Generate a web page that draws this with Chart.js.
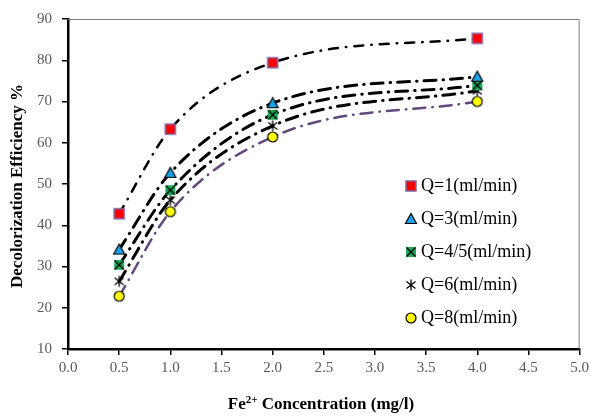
<!DOCTYPE html>
<html lang="en">
<head>
    <meta charset="UTF-8">
    <title>Decolorization Efficiency</title>
    <script src="https://cdn.jsdelivr.net/npm/chart.js@4.4.1/dist/chart.umd.min.js"></script>
    <style>
        body { margin: 0; background: #fff; }
    </style>
</head>
<body>
<canvas id="chart" width="593" height="417"></canvas>
<script>
    // values
    var concentration = [0.5, 1.0, 2.0, 4.0];
    var q1 = [42.8, 63.3, 79.4, 85.3];
    var q3 = [34.1, 52.7, 69.6, 76.0];
    var q45 = [30.4, 48.5, 66.8, 73.9];
    var q6 = [26.4, 46.1, 64.1, 72.6];
    var q8 = [22.8, 43.3, 61.4, 70.0];
    var seriesNames = ['Q=1(ml/min)', 'Q=3(ml/min)', 'Q=4/5(ml/min)', 'Q=6(ml/min)', 'Q=8(ml/min)'];
    var xTicks = [0, 5, 0.5];   // min, max, step
    var yTicks = [10, 90, 10];

    var serif = "'Liberation Serif', 'Times New Roman', serif";

    // little canvases used as point styles (also reused in the legend)
    function makeMarker(kind) {
        var c = document.createElement('canvas');
        c.width = 14; c.height = 14;
        var g = c.getContext('2d');
        g.lineJoin = 'miter';
        if (kind === 'square') {
            g.fillStyle = '#ff0000';
            g.fillRect(2, 2, 10, 10);
            g.strokeStyle = '#8064a2';
            g.lineWidth = 1.5;
            g.strokeRect(2, 2, 10, 10);
        } else if (kind === 'triangle') {
            g.beginPath();
            g.moveTo(7, 1.5); g.lineTo(12.5, 11.5); g.lineTo(1.5, 11.5); g.closePath();
            g.fillStyle = '#1aa3e8';
            g.fill();
            g.strokeStyle = '#000';
            g.lineWidth = 1.2;
            g.stroke();
        } else if (kind === 'xsquare') {
            g.fillStyle = '#1fa95a';
            g.fillRect(2, 2, 10, 10);
            g.strokeStyle = '#000';
            g.lineWidth = 1.3;
            g.beginPath();
            g.moveTo(2.5, 2.5); g.lineTo(11.5, 11.5);
            g.moveTo(11.5, 2.5); g.lineTo(2.5, 11.5);
            g.stroke();
        } else if (kind === 'star') {
            g.strokeStyle = '#000';
            g.lineWidth = 1.3;
            g.beginPath();
            g.moveTo(2.5, 3.5); g.lineTo(11.5, 10.5);
            g.moveTo(11.5, 3.5); g.lineTo(2.5, 10.5);
            g.moveTo(7, 1.5); g.lineTo(7, 12.5);
            g.stroke();
        } else {
            g.beginPath();
            g.arc(7, 7, 5, 0, Math.PI * 2);
            g.fillStyle = '#ffff00';
            g.fill();
            g.strokeStyle = '#000';
            g.lineWidth = 1.2;
            g.stroke();
        }
        return c;
    }

    var markers = [makeMarker('square'), makeMarker('triangle'), makeMarker('xsquare'), makeMarker('star'), makeMarker('circle')];
    var allSeries = [q1, q3, q45, q6, q8];
    var trendColors = ['#000000', '#000000', '#000000', '#000000', '#604a7b'];
    var trendWidths = [2.5, 3, 3, 3, 2.5];
    var trendDash = [[9, 8, 0.5, 8], [12, 7, 0.5, 7], [12, 7, 0.5, 7], [12, 7, 0.5, 7], [12, 7, 0.5, 7]];

    function pts(values) {
        return concentration.map(function (x, i) { return {x: x, y: values[i]}; });
    }

    var datasets = [];
    allSeries.forEach(function (values, i) {
        datasets.push({
            label: seriesNames[i],
            data: pts(values),
            pointStyle: markers[i],
            showLine: false,
            order: 0
        });
    });
    allSeries.forEach(function (values, i) {
        datasets.push({
            label: 'trend ' + seriesNames[i],
            data: pts(values),
            showLine: true,
            pointRadius: 0,
            borderColor: trendColors[i],
            borderWidth: trendWidths[i],
            borderDash: trendDash[i],
            borderCapStyle: 'round',
            cubicInterpolationMode: 'monotone',
            order: 1
        });
    });

    // frame, axis titles and the legend box inside the plot
    var extras = {
        id: 'extras',
        beforeDatasetsDraw: function (chart) {
            var a = chart.chartArea, ctx = chart.ctx;
            ctx.save();
            ctx.strokeStyle = '#808080';
            ctx.lineWidth = 1;
            ctx.beginPath();
            ctx.moveTo(a.left, a.top + 0.5);
            ctx.lineTo(a.right - 0.5, a.top + 0.5);
            ctx.lineTo(a.right - 0.5, a.bottom);
            ctx.stroke();
            ctx.restore();
        },
        afterDraw: function (chart) {
            var a = chart.chartArea, ctx = chart.ctx;
            ctx.save();
            ctx.fillStyle = '#000';

            // y title
            ctx.font = 'bold 17px ' + serif;
            ctx.textAlign = 'center';
            ctx.textBaseline = 'middle';
            ctx.translate(18, (a.top + a.bottom) / 2 + 2);
            ctx.rotate(-Math.PI / 2);
            ctx.fillText('Decolorization Efficiency %', 0, 0);
            ctx.setTransform(1, 0, 0, 1, 0, 0);

            // x title with superscript
            var big = 'bold 17px ' + serif, small = 'bold 11px ' + serif;
            ctx.font = big;
            var w1 = ctx.measureText('Fe').width;
            var w3 = ctx.measureText(' Concentration (mg/l)').width;
            ctx.font = small;
            var w2 = ctx.measureText('2+').width;
            var x0 = 321 - (w1 + w2 + w3) / 2, yb = 405;
            ctx.textAlign = 'left';
            ctx.textBaseline = 'middle';
            ctx.font = big;
            ctx.fillText('Fe', x0, yb);
            ctx.font = small;
            ctx.fillText('2+', x0 + w1, yb - 5);
            ctx.font = big;
            ctx.fillText(' Concentration (mg/l)', x0 + w1 + w2, yb);

            // legend
            ctx.font = '18px ' + serif;
            seriesNames.forEach(function (name, i) {
                var ry = 186 + i * 33;
                ctx.drawImage(markers[i], 411 - 7, ry - 7);
                ctx.fillText(name, 421, ry);
            });
            ctx.restore();
        }
    };

    new Chart(document.getElementById('chart'), {
        type: 'scatter',
        data: {datasets: datasets},
        options: {
            responsive: false,
            animation: false,
            layout: {padding: {top: 17, right: 12, left: 0, bottom: 0}},
            plugins: {legend: {display: false}, tooltip: {enabled: false}},
            scales: {
                x: {
                    type: 'linear',
                    min: xTicks[0], max: xTicks[1],
                    afterFit: function (s) { s.height = 68; },
                    ticks: {
                        stepSize: xTicks[2],
                        padding: 4,
                        color: '#595959',
                        font: {family: serif, size: 15},
                        callback: function (v) { return Number(v).toFixed(1); }
                    },
                    grid: {drawOnChartArea: false, drawTicks: true, tickLength: 6, color: '#000', lineWidth: 1.5},
                    border: {color: '#000', width: 2.5}
                },
                y: {
                    min: yTicks[0], max: yTicks[1],
                    afterFit: function (s) { s.width = 68; },
                    ticks: {
                        stepSize: yTicks[2],
                        padding: 10,
                        color: '#595959',
                        font: {family: serif, size: 15}
                    },
                    grid: {drawOnChartArea: false, drawTicks: true, tickLength: 6, color: '#000', lineWidth: 1.5},
                    border: {color: '#000', width: 2.5}
                }
            }
        },
        plugins: [extras]
    });
</script>
</body>
</html>
